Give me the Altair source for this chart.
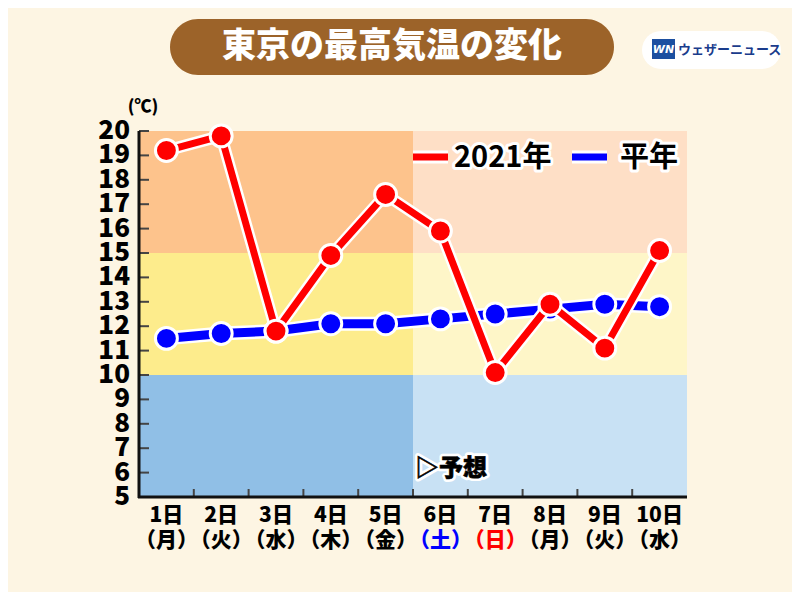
import altair as alt
import pandas as pd

# ---------------- data ----------------
days = ["1日", "2日", "3日", "4日", "5日", "6日", "7日", "8日", "9日", "10日"]
weekdays = ["（月）", "（火）", "（水）", "（木）", "（金）", "（土）", "（日）", "（月）", "（火）", "（水）"]
weekday_colors = ["#000000"] * 5 + ["#0000FF", "#FF0000"] + ["#000000"] * 3
temp_2021 = [19.2, 19.8, 11.8, 14.9, 17.4, 15.9, 10.1, 12.9, 11.1, 15.1]
temp_normal = [11.5, 11.7, 11.8, 12.1, 12.1, 12.3, 12.5, 12.7, 12.9, 12.8]
y_ticks = list(range(5, 21))

band_lo = [15, 10, 5, 15, 10, 5]
band_hi = [20, 15, 10, 20, 15, 10]
band_x0 = [0, 0, 0, 5, 5, 5]
band_x1 = [5, 5, 5, 10, 10, 10]
band_color = ["#FDC38C", "#FDEC8C", "#90BFE6", "#FEDFC6", "#FEF6C8", "#C8E1F4"]

FONT = "Noto Sans CJK JP"
W, H = 548, 366

xs = [i + 0.5 for i in range(10)]
df = pd.DataFrame({"x": xs, "day": days, "wd": weekdays, "wdc": weekday_colors,
                   "t2021": temp_2021, "tnorm": temp_normal})
bands = pd.DataFrame({"x0": band_x0, "x1": band_x1, "lo": band_lo, "hi": band_hi, "c": band_color})
yt = pd.DataFrame({"v": y_ticks, "lab": [str(v) for v in y_ticks]})
xt = pd.DataFrame({"b": list(range(1, 10))})
one = pd.DataFrame({"a": [0]})

xs_ = alt.Scale(domain=[0, 10], nice=False)
ys_ = alt.Scale(domain=[5, 20], nice=False)
X = lambda f: alt.X(f, type="quantitative", scale=xs_, axis=None)
Y = lambda f: alt.Y(f, type="quantitative", scale=ys_, axis=None)

layers = []

# background bands
layers.append(alt.Chart(bands).mark_rect().encode(
    x=X("x0"), x2="x1", y=Y("lo"), y2="hi",
    color=alt.Color("c:N", scale=None)))

# ticks
layers.append(alt.Chart(yt).mark_rule(color="#444444", strokeWidth=2).encode(
    y=Y("v"), x=alt.value(0), x2=alt.value(10)))
layers.append(alt.Chart(xt).mark_rule(color="#444444", strokeWidth=2).encode(
    x=X("b"), y=alt.value(H), y2=alt.value(H - 8)))
# axis frame
layers.append(alt.Chart(one).mark_rule(color="#111111", strokeWidth=3).encode(
    x=alt.value(0), y=alt.value(0), y2=alt.value(H + 1)))
layers.append(alt.Chart(one).mark_rule(color="#111111", strokeWidth=3).encode(
    x=alt.value(-1), x2=alt.value(W), y=alt.value(H)))


def halo_text(data, size, color, sw=4, weight=900, thick=0, **enc):
    base_kw = dict(font=FONT, fontWeight=weight, fontSize=size)
    for k in ("align", "baseline"):
        if k in enc:
            base_kw[k] = enc.pop(k)
    under = alt.Chart(data).mark_text(stroke="white", strokeWidth=sw, strokeJoin="round",
                                       fill="white", **base_kw).encode(**enc)
    extra = dict(stroke=color, strokeWidth=thick) if thick else {}
    over = alt.Chart(data).mark_text(fill=color, **extra, **base_kw).encode(**enc)
    return [under, over]


def plain_text(data, size, color, weight=900, **enc):
    kw = dict(font=FONT, fontWeight=weight, fontSize=size)
    for k in ("align", "baseline"):
        if k in enc:
            kw[k] = enc.pop(k)
    if isinstance(color, str):
        kw["fill"] = color
    else:
        enc["fill"] = color
    return [alt.Chart(data).mark_text(**kw).encode(**enc)]


# series: normal (blue)
layers.append(alt.Chart(df).mark_line(color="white", strokeWidth=14, strokeJoin="round").encode(
    x=X("x"), y=Y("tnorm")))
layers.append(alt.Chart(df).mark_line(color="#0000FF", strokeWidth=9, strokeJoin="round").encode(
    x=X("x"), y=Y("tnorm")))
layers.append(alt.Chart(df).mark_point(shape="circle", filled=True, fill="#0000FF", stroke="white",
                                       strokeWidth=3, size=480, opacity=1).encode(x=X("x"), y=Y("tnorm")))
# series: 2021 (red)
layers.append(alt.Chart(df).mark_line(color="white", strokeWidth=12, strokeJoin="round").encode(
    x=X("x"), y=Y("t2021")))
layers.append(alt.Chart(df).mark_line(color="#FF0000", strokeWidth=7, strokeJoin="round").encode(
    x=X("x"), y=Y("t2021")))
layers.append(alt.Chart(df).mark_point(shape="circle", filled=True, fill="#FF0000", stroke="white",
                                       strokeWidth=3, size=480, opacity=1).encode(x=X("x"), y=Y("t2021")))

# y labels
layers += plain_text(yt, 26, "#000000", text="lab:N", y=Y("v"), x=alt.value(-9),
                     align="right", baseline="middle")
# unit
layers += plain_text(one, 17, "#000000", text=alt.value("(℃)"), x=alt.value(4), y=alt.value(-24),
                     align="center", baseline="middle")
# x labels
layers += plain_text(df, 21, "#000000", text="day:N", x=X("x"), y=alt.value(385),
                     align="center", baseline="middle")
layers += plain_text(df, 21, alt.Color("wdc:N", scale=None), text="wd:N", x=X("x"), y=alt.value(410),
                     align="center", baseline="middle")

# legend
leg = pd.DataFrame({"x0": [274, 433], "x1": [309, 468], "c": ["#FF0000", "#0000FF"],
                    "tx": [315, 481], "lab": ["2021年", "平年"]})
layers.append(alt.Chart(leg).mark_rule(stroke="white", strokeWidth=13).encode(
    x=alt.X("x0:Q", scale=None, axis=None), x2="x1:Q", y=alt.value(26)))
layers.append(alt.Chart(leg).mark_rule(strokeWidth=7).encode(
    x=alt.X("x0:Q", scale=None, axis=None), x2="x1:Q", y=alt.value(26),
    color=alt.Color("c:N", scale=None)))
layers += halo_text(leg, 29, "#000000", sw=6, weight="bold", text="lab:N",
                    x=alt.X("tx:Q", scale=None, axis=None),
                    y=alt.value(27), align="left", baseline="middle")

# forecast label
layers += halo_text(one, 24, "#000000", sw=6, thick=0.6, text=alt.value("▷予想"), x=alt.value(276),
                    y=alt.value(338), align="left", baseline="middle")

# title
layers.append(alt.Chart(one).mark_rect(color="#9C6329", cornerRadius=28).encode(
    x=alt.value(31), x2=alt.value(475), y=alt.value(-112), y2=alt.value(-56)))
layers.append(alt.Chart(one).mark_text(font=FONT, fontWeight=900, fontSize=34, color="white",
                                       align="center", baseline="middle").encode(
    x=alt.value(253), y=alt.value(-84), text=alt.value("東京の最高気温の変化")))

# logo
layers.append(alt.Chart(one).mark_rect(color="white", cornerRadius=19).encode(
    x=alt.value(503), x2=alt.value(642), y=alt.value(-100), y2=alt.value(-62)))
layers.append(alt.Chart(one).mark_rect(color="#1C4FA0").encode(
    x=alt.value(513), x2=alt.value(536), y=alt.value(-92), y2=alt.value(-72)))
layers.append(alt.Chart(one).mark_text(font="DejaVu Sans", fontWeight="bold", fontStyle="italic",
                                       fontSize=11, color="white", align="center", baseline="middle").encode(
    x=alt.value(524.5), y=alt.value(-81), text=alt.value("WN")))
layers.append(alt.Chart(one).mark_text(font=FONT, fontWeight="bold", fontSize=13, color="#1A3C8C",
                                       align="left", baseline="middle").encode(
    x=alt.value(539), y=alt.value(-81), text=alt.value("ウェザーニュース")))

chart = alt.layer(*layers).properties(
    width=W, height=H,
    autosize=alt.AutoSizeParams(type="none"),
    padding={"left": 131, "top": 123, "right": 800 - 16 - 131 - W, "bottom": 600 - 16 - 123 - H},
    background="#FDF5E3",
).configure_view(stroke=None)

chart.save("out.html", embed_options={"renderer": "svg", "actions": False})
